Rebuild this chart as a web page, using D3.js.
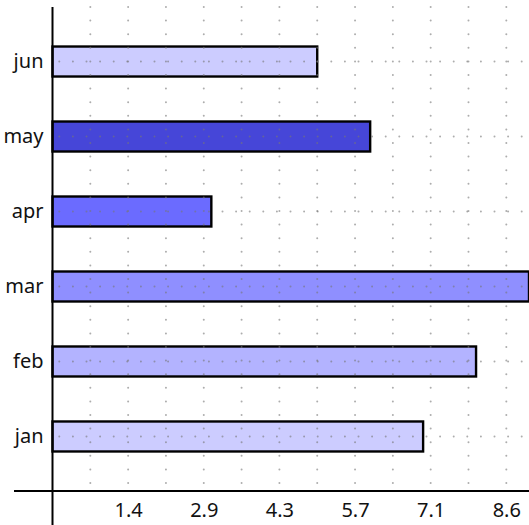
<!DOCTYPE html>
<html>
<head>
<meta charset="utf-8">
<script src="https://cdn.jsdelivr.net/npm/d3@7"></script>
<style>
  html, body { margin: 0; padding: 0; background: #fff; }
  svg { display: block; }
</style>
</head>
<body>
<svg id="chart" width="529" height="525"></svg>
<script>
const categories = ["jan", "feb", "mar", "apr", "may", "jun"];
const values = [7, 8, 9, 3, 6, 5];
const colors = ["#ccccff", "#b3b3ff", "#8f8fff", "#6b6bff", "#4646d8", "#ccccff"];
const tickValues = [10/7, 20/7, 30/7, 40/7, 50/7, 60/7];
const tickLabels = ["1.4", "2.9", "4.3", "5.7", "7.1", "8.6"];
const gridValues = d3.range(1, 13).map(i => i * 5 / 7);

const svg = d3.select("#chart");
const W = 529, H = 525;
const x0 = 52.5, xAxisY = 491, topY = 7;
const FONT = "'Noto Sans', 'Open Sans', sans-serif";

const x = d3.scaleLinear().domain([0, 9]).range([x0, 529]);
const y = d3.scaleBand()
  .domain(categories.slice().reverse())
  .range([topY, xAxisY])
  .paddingInner(0.6)
  .paddingOuter(0.527);

// bars
svg.append("g").selectAll("rect")
  .data(categories)
  .join("rect")
  .attr("x", x(0))
  .attr("y", d => y(d))
  .attr("width", (d, i) => x(values[i]) - x(0))
  .attr("height", y.bandwidth())
  .attr("fill", (d, i) => colors[i])
  .attr("stroke", "#000")
  .attr("stroke-width", 2.4);

// dotted grid drawn over bars
const grid = svg.append("g")
  .attr("stroke", "#777")
  .attr("stroke-opacity", 0.6)
  .attr("stroke-width", 2)
  .attr("stroke-linecap", "round")
  .attr("stroke-dasharray", "0 13.6");

grid.selectAll("line.v")
  .data(gridValues)
  .join("line")
  .attr("class", "v")
  .attr("x1", d => x(d)).attr("x2", d => x(d))
  .attr("y1", topY).attr("y2", xAxisY);

grid.selectAll("line.h")
  .data(categories)
  .join("line")
  .attr("class", "h")
  .attr("x1", x0 + 6.8).attr("x2", W)
  .attr("y1", d => y(d) + y.bandwidth() / 2)
  .attr("y2", d => y(d) + y.bandwidth() / 2);

// x axis
const xAxis = d3.axisBottom(x)
  .tickValues(tickValues)
  .tickFormat((d, i) => tickLabels[i])
  .tickSize(0)
  .tickPadding(12);
const gx = svg.append("g").attr("transform", `translate(0,${xAxisY})`).call(xAxis)
  .attr("font-size", 20).attr("font-family", FONT);
gx.select(".domain").remove();
gx.selectAll("text").attr("fill", "#111");

// y axis
const yAxis = d3.axisLeft(y).tickSize(0).tickPadding(9);
const gy = svg.append("g").attr("transform", `translate(${x0},0)`).call(yAxis)
  .attr("font-size", 20).attr("font-family", FONT);
gy.select(".domain").remove();
gy.selectAll("text").attr("fill", "#111");

// axis lines (crossing)
svg.append("line")
  .attr("x1", 14).attr("x2", W)
  .attr("y1", xAxisY).attr("y2", xAxisY)
  .attr("stroke", "#000").attr("stroke-width", 2);
svg.append("line")
  .attr("x1", x0).attr("x2", x0)
  .attr("y1", topY).attr("y2", H)
  .attr("stroke", "#000").attr("stroke-width", 2);
</script>
</body>
</html>
